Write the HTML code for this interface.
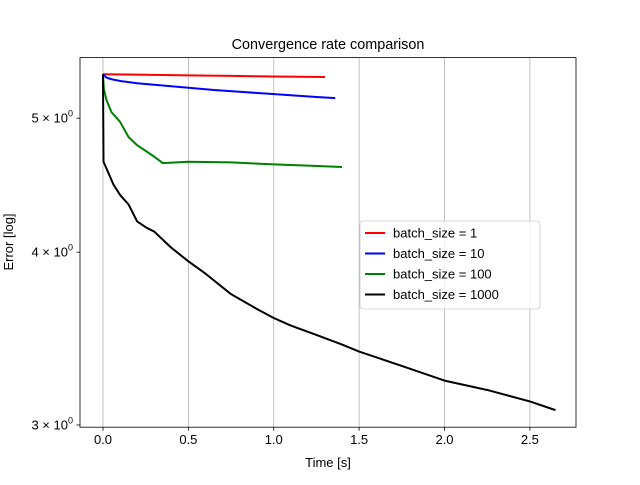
<!DOCTYPE html>
<html><head><meta charset="utf-8"><style>
body{margin:0;background:#fff}
svg{font-family:"Liberation Sans","DejaVu Sans",sans-serif}
</style></head><body>
<svg id="chart" width="640" height="480">
<rect width="640" height="480" fill="#fff"/>
<g id="grid"></g>
<g id="series"></g>
<rect x="80" y="57.6" width="496" height="369.6" fill="none" stroke="#000" stroke-width="0.8"/>
<g id="axes"></g>
<text x="328" y="49" text-anchor="middle" font-size="14.4">Convergence rate comparison</text>
<text x="328" y="467" text-anchor="middle" font-size="13">Time [s]</text>
<text transform="translate(13,242) rotate(-90)" text-anchor="middle" font-size="13">Error [log]</text>
<g id="legend"></g>
</svg>
<script>
const seriesNames = ["batch_size = 1","batch_size = 10","batch_size = 100","batch_size = 1000"];
const seriesColors = ["#ff0000","#0000ff","#008000","#000000"];
const redX = [0,0.25,0.5,0.75,1.0,1.3];
const redY = [5.38,5.375,5.37,5.365,5.36,5.355];
const blueX = [0,0.02,0.05,0.1,0.2,0.35,0.5,0.65,0.8,0.95,1.1,1.25,1.36];
const blueY = [5.38,5.35,5.335,5.32,5.30,5.28,5.26,5.24,5.225,5.21,5.195,5.18,5.17];
const greenX = [0,0.005,0.02,0.05,0.1,0.15,0.2,0.3,0.35,0.5,0.75,1.0,1.2,1.4];
const greenY = [5.38,5.25,5.155,5.05,4.97,4.845,4.78,4.69,4.64,4.65,4.645,4.63,4.62,4.61];
const blackX = [0,0.003,0.03,0.06,0.1,0.15,0.2,0.25,0.3,0.4,0.5,0.6,0.75,0.9,1.0,1.1,1.25,1.4,1.5,1.75,2.0,2.25,2.5,2.65];
const blackY = [5.38,4.65,4.57,4.48,4.40,4.33,4.21,4.17,4.14,4.03,3.94,3.86,3.73,3.64,3.585,3.54,3.485,3.43,3.39,3.31,3.23,3.18,3.12,3.075];
const xTicks = [0,0.5,1,1.5,2,2.5];
const xTickLabels = ["0.0","0.5","1.0","1.5","2.0","2.5"];
const yTicks = [3,4,5];
const yTickMant = ["3","4","5"];

const NS="http://www.w3.org/2000/svg";
const L=80,R=576,T=57.6,B=427.2;
const xMin=-0.1346,xMax=2.77;
const yLogMin=0.4755,yLogMax=0.7428;
function sx(v){return L+(v-xMin)/(xMax-xMin)*(R-L);}
function sy(v){return B-(Math.log10(v)-yLogMin)/(yLogMax-yLogMin)*(B-T);}
function mk(tag,attrs,parent){const e=document.createElementNS(NS,tag);for(const k in attrs)e.setAttribute(k,attrs[k]);parent.appendChild(e);return e;}

const grid=document.getElementById('grid'),axes=document.getElementById('axes');
xTicks.forEach((t,i)=>{
  const x=sx(t);
  const g=mk('line',{x1:x,x2:x,y1:T,y2:B,stroke:'#b0b0b0','stroke-width':0.8},grid);
  
  
  const tk=mk('line',{x1:x,x2:x,y1:B,y2:B+3.5,stroke:'#000','stroke-width':0.8},axes);
  
  
  const tx=mk('text',{x:x,y:B+17,'text-anchor':'middle','font-size':13},axes);
  tx.textContent=xTickLabels[i];
  
  
});
yTicks.forEach((t,i)=>{
  const y=sy(t);
  const tk=mk('line',{x1:L-3.5,x2:L,y1:y,y2:y,stroke:'#000','stroke-width':0.8},axes);
  
  
  const tx=mk('text',{x:L-7,y:y+4.5,'text-anchor':'end','font-size':13},axes);
  tx.innerHTML=yTickMant[i]+' \u00d7 10<tspan dy="-6" font-size="9">0</tspan>';
  
  
});
const sg=document.getElementById('series');
[[redX,redY],[blueX,blueY],[greenX,greenY],[blackX,blackY]].forEach((s,i)=>{
  const d=s[0].map((x,j)=>(j?'L':'M')+sx(x).toFixed(2)+','+sy(s[1][j]).toFixed(2)).join(' ');
  const p=mk('path',{d:d,fill:'none',stroke:seriesColors[i],'stroke-width':2,'stroke-linejoin':'round'},sg);
  
  
});
const lg=document.getElementById('legend');
const box=mk('rect',{x:360,y:221,width:180,height:88,rx:3,fill:'#fff','fill-opacity':0.8,stroke:'#ccc','stroke-width':0.8},lg);


seriesNames.forEach((n,i)=>{
  const y=233+i*20.5;
  const ln=mk('line',{x1:365,x2:385,y1:y,y2:y,stroke:seriesColors[i],'stroke-width':2},lg);
  
  
  const t=mk('text',{x:393,y:y+4.5,'font-size':13},lg);
  t.textContent=n;
  
  
});
</script>
</body></html>
